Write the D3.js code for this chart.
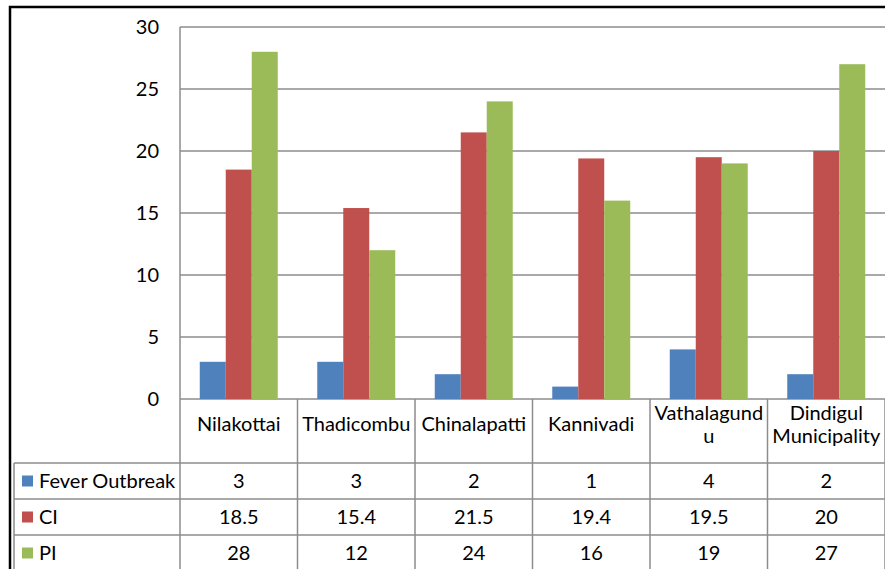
<!DOCTYPE html>
<html>
<head>
<meta charset="utf-8">
<script src="https://cdn.jsdelivr.net/npm/d3@7"></script>
<style>
  body { margin: 0; background: #fff; }
  svg { display: block; }
  text { font-family: Lato, "Open Sans", sans-serif; font-size: 20px; fill: #000; }
</style>
</head>
<body>
<svg width="885" height="569"></svg>
<script>
// chart data
var categories = ["Nilakottai", "Thadicombu", "Chinalapatti", "Kannivadi", "Vathalagundu", "Dindigul Municipality"];
var categoryLines = [["Nilakottai"], ["Thadicombu"], ["Chinalapatti"], ["Kannivadi"], ["Vathalagund", "u"], ["Dindigul", "Municipality"]];
var seriesNames = ["Fever Outbreak", "CI", "PI"];
var feverOutbreak = [3, 3, 2, 1, 4, 2];
var ciValues = [18.5, 15.4, 21.5, 19.4, 19.5, 20];
var piValues = [28, 12, 24, 16, 19, 27];
var yTicks = [0, 5, 10, 15, 20, 25, 30];

var seriesValues = [feverOutbreak, ciValues, piValues];
var color = d3.scaleOrdinal()
    .domain(seriesNames)
    .range(["#4F81BD", "#C0504D", "#9BBB59"]);

var svg = d3.select("svg"),
    width = +svg.attr("width"),
    height = +svg.attr("height"),
    plotLeft = 180, plotRight = 885, plotTop = 27, zero = 399,
    rowTop = 463, rowH = 36, legendLeft = 14;

var x = d3.scaleBand().domain(categories).range([plotLeft, plotRight]).padding(0);
var x1 = d3.scaleBand().domain(seriesNames).range([0, x.bandwidth()]).paddingInner(0).paddingOuter(0.76);
var y = d3.scaleLinear().domain([0, 30]).range([zero, plotTop]);

var lineColor = "#8c8c8c";

// outer frame
svg.append("rect")
    .attr("x", 10).attr("y", 7)
    .attr("width", width).attr("height", height)
    .attr("fill", "none").attr("stroke", "#000").attr("stroke-width", 2.5);

// gridlines
svg.append("g").selectAll("line")
  .data(yTicks)
  .enter().append("line")
    .attr("x1", plotLeft).attr("x2", plotRight)
    .attr("y1", function(d) { return y(d); }).attr("y2", function(d) { return y(d); })
    .attr("stroke", lineColor).attr("stroke-width", 1.5);

// y tick labels
svg.append("g").selectAll("text")
  .data(yTicks)
  .enter().append("text")
    .attr("x", 159).attr("y", function(d) { return y(d); })
    .attr("dy", "0.35em")
    .attr("text-anchor", "end")
    .text(function(d) { return d; });

// bars
var groups = svg.append("g").selectAll("g")
  .data(categories)
  .enter().append("g")
    .attr("transform", function(d) { return "translate(" + x(d) + ",0)"; });

groups.selectAll("rect")
  .data(function(d, i) { return seriesNames.map(function(s, j) { return {s: s, v: seriesValues[j][i]}; }); })
  .enter().append("rect")
    .attr("x", function(d) { return x1(d.s); })
    .attr("width", x1.bandwidth())
    .attr("y", function(d) { return y(d.v); })
    .attr("height", function(d) { return zero - y(d.v); })
    .attr("fill", function(d) { return color(d.s); });

// data table lines
var table = svg.append("g");
table.append("line")
    .attr("x1", plotLeft).attr("x2", plotLeft).attr("y1", plotTop).attr("y2", height)
    .attr("stroke", lineColor).attr("stroke-width", 1.5);
categories.forEach(function(c) {
  table.append("line")
      .attr("x1", x(c) + x.bandwidth()).attr("x2", x(c) + x.bandwidth())
      .attr("y1", zero).attr("y2", height)
      .attr("stroke", lineColor).attr("stroke-width", 1.5);
});
table.append("line")
    .attr("x1", legendLeft).attr("x2", legendLeft).attr("y1", rowTop).attr("y2", height)
    .attr("stroke", lineColor).attr("stroke-width", 1.5);
[0, 1, 2].forEach(function(i) {
  table.append("line")
      .attr("x1", legendLeft).attr("x2", plotRight)
      .attr("y1", rowTop + i * rowH).attr("y2", rowTop + i * rowH)
      .attr("stroke", lineColor).attr("stroke-width", 1.5);
});

// category labels
var catText = svg.append("g").selectAll("text")
  .data(categories)
  .enter().append("text")
    .attr("text-anchor", "middle")
    .attr("x", function(d) { return x(d) + x.bandwidth() / 2; })
    .attr("y", function(d, i) { return (zero + rowTop) / 2 - (categoryLines[i].length - 1) * 11.5; })
    .attr("dy", "0.35em");
catText.selectAll("tspan")
  .data(function(d, i) { return categoryLines[i]; })
  .enter().append("tspan")
    .attr("x", function() { return this.parentNode.getAttribute("x"); })
    .attr("dy", function(d, i) { return i ? 23 : 0; })
    .text(function(d) { return d; });

// legend keys and values
seriesNames.forEach(function(s, j) {
  var cy = rowTop + j * rowH + rowH / 2;
  svg.append("rect")
      .attr("x", 22).attr("y", cy - 5.5)
      .attr("width", 11).attr("height", 11)
      .attr("fill", color(s));
  svg.append("text")
      .attr("x", 39).attr("y", cy).attr("dy", "0.35em")
      .text(s);
  svg.append("g").selectAll("text")
    .data(categories)
    .enter().append("text")
      .attr("text-anchor", "middle")
      .attr("x", function(d) { return x(d) + x.bandwidth() / 2; })
      .attr("y", cy).attr("dy", "0.35em")
      .text(function(d, i) { return seriesValues[j][i]; });
});
</script>
</body>
</html>
